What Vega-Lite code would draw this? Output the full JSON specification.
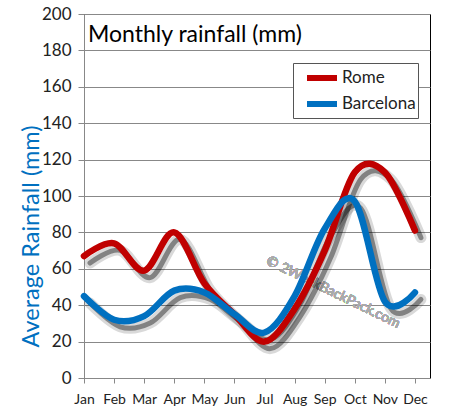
{
  "$schema": "https://vega.github.io/schema/vega-lite/v6.json",
  "width": 346,
  "height": 364,
  "autosize": {"type": "none"},
  "padding": {"left": 84, "top": 14, "right": 21, "bottom": 40},
  "background": "white",
  "config": {"view": {"stroke": "#000", "strokeWidth": 1}, "font": "Lato"},
  "title": {"text": "Monthly rainfall (mm)", "anchor": "start", "frame": "group", "orient": "top", "offset": -30, "baseline": "alphabetic", "fontSize": 23, "fontWeight": "normal", "color": "#000", "dx": 4, "dy": 30, "font": "Lato"},
  "data": {"values": [
    {"month": 1, "city": "Rome", "rain": 67},
    {"month": 2, "city": "Rome", "rain": 74},
    {"month": 3, "city": "Rome", "rain": 59},
    {"month": 4, "city": "Rome", "rain": 80},
    {"month": 5, "city": "Rome", "rain": 52},
    {"month": 6, "city": "Rome", "rain": 35},
    {"month": 7, "city": "Rome", "rain": 20},
    {"month": 8, "city": "Rome", "rain": 38},
    {"month": 9, "city": "Rome", "rain": 70},
    {"month": 10, "city": "Rome", "rain": 113},
    {"month": 11, "city": "Rome", "rain": 113},
    {"month": 12, "city": "Rome", "rain": 81},
    {"month": 1, "city": "Barcelona", "rain": 45},
    {"month": 2, "city": "Barcelona", "rain": 32},
    {"month": 3, "city": "Barcelona", "rain": 34},
    {"month": 4, "city": "Barcelona", "rain": 48},
    {"month": 5, "city": "Barcelona", "rain": 47},
    {"month": 6, "city": "Barcelona", "rain": 35},
    {"month": 7, "city": "Barcelona", "rain": 25},
    {"month": 8, "city": "Barcelona", "rain": 45},
    {"month": 9, "city": "Barcelona", "rain": 82},
    {"month": 10, "city": "Barcelona", "rain": 97},
    {"month": 11, "city": "Barcelona", "rain": 42},
    {"month": 12, "city": "Barcelona", "rain": 47}
  ]},
  "encoding": {
    "x": {"field": "month", "type": "quantitative",
      "scale": {"domain": [1, 12.5], "nice": false, "zero": false},
      "axis": {"values": [1,2,3,4,5,6,7,8,9,10,11,12],
        "labelExpr": "['Jan','Feb','Mar','Apr','May','Jun','Jul','Aug','Sep','Oct','Nov','Dec'][datum.value-1]",
        "grid": false, "title": null, "labelFontSize": 14, "labelColor": "#222", "tickSize": 5, "tickColor": "#888", "domainColor": "#888", "labelPadding": 9, "labelFlush": false, "labelOverlap": false}},
    "y": {"field": "rain", "type": "quantitative",
      "scale": {"domain": [0, 200], "nice": false},
      "axis": {"values": [0,20,40,60,80,100,120,140,160,180,200],
        "title": "Average Rainfall (mm)", "titleColor": "#0070C0", "titleFontSize": 23.5, "titleFontWeight": "normal", "titleFont": "Lato",
        "titleX": -53, "titleY": 222, "titleAngle": -90, "titleBaseline": "middle", "titleAlign": "center",
        "labelFontSize": 17, "labelColor": "#222", "labelPadding": 7, "tickSize": 6, "tickColor": "#888", "domainColor": "#888", "gridColor": "#888", "grid": true}}
  },
  "layer": [
    {
      "mark": {"type": "text", "angle": 26, "fontSize": 14, "color": "#aaa", "align": "center", "baseline": "middle", "text": "© 2WeekBackPack.com"},
      "encoding": {"x": {"datum": 9.28}, "y": {"datum": 47}}
    },
    {
      "mark": {"type": "line", "interpolate": "cardinal", "color": "#000", "strokeWidth": 11, "opacity": 0.15, "xOffset": 6, "yOffset": 7, "strokeCap": "round"},
      "encoding": {"detail": {"field": "city"}}
    },
    {
      "mark": {"type": "line", "interpolate": "cardinal", "color": "#000", "strokeWidth": 5, "opacity": 0.4, "xOffset": 6, "yOffset": 7, "strokeCap": "round"},
      "encoding": {"detail": {"field": "city"}}
    },
    {
      "mark": {"type": "line", "interpolate": "cardinal", "strokeWidth": 6.5, "strokeCap": "round"},
      "encoding": {
        "color": {"field": "city", "type": "nominal",
          "scale": {"domain": ["Rome", "Barcelona"], "range": ["#C00000", "#0070C0"]},
          "legend": {"orient": "none", "legendX": 209, "legendY": 49, "title": null, "symbolType": "M-1.5,0H1.5", "symbolSize": 400, "symbolOffset": 14, "symbolStrokeWidth": 6, "labelFontSize": 17, "labelColor": "#222", "strokeColor": "#555", "fillColor": "#fff", "padding": 2, "rowPadding": 1, "labelOffset": 7}}
      }
    }
  ]
}
